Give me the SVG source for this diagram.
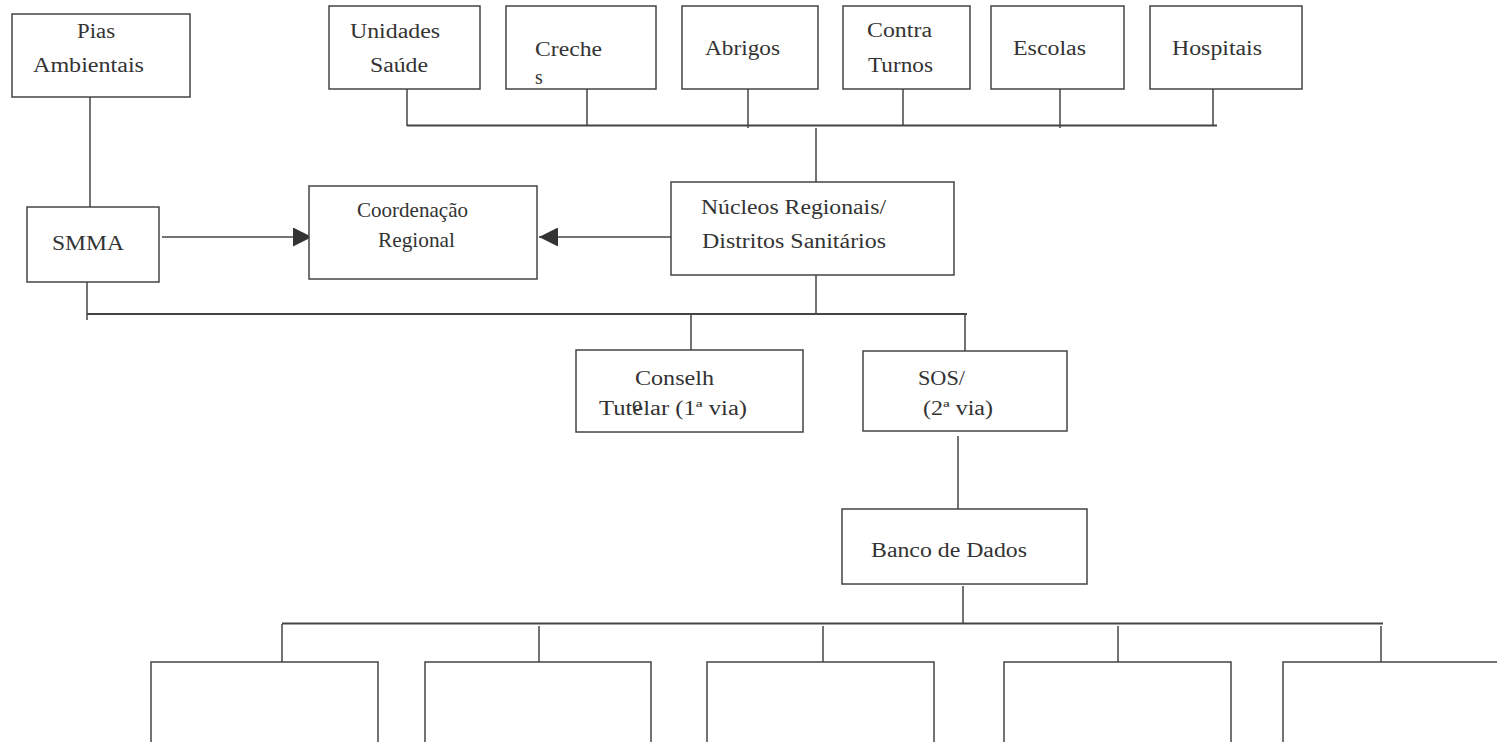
<svg xmlns="http://www.w3.org/2000/svg" width="1497" height="742" viewBox="0 0 1497 742">
<style>
.box{fill:#fff;stroke:#444;stroke-width:1.5}
.ln{fill:none;stroke:#444;stroke-width:1.5}
.bus{fill:none;stroke:#444;stroke-width:2}
.t{font-family:'Liberation Serif','DejaVu Serif','Times New Roman',serif;font-size:20px;fill:#333}
.tc{font-family:'Liberation Serif','DejaVu Serif','Times New Roman',serif;font-size:22px;fill:#333}
</style>
<defs>
<marker id="ah" markerUnits="userSpaceOnUse" markerWidth="19" markerHeight="19" refX="19" refY="9.5" orient="auto">
<path d="M0,0 L19,9.5 L0,19 Z" fill="#333"/>
</marker>
</defs>
<rect width="1497" height="742" fill="#fff"/>
<g id="connectors">
<line class="ln" x1="90" y1="97" x2="90" y2="208"/>
<line class="ln" x1="407" y1="89" x2="407" y2="126"/>
<line class="ln" x1="587" y1="89" x2="587" y2="126"/>
<line class="ln" x1="748" y1="89" x2="748" y2="128"/>
<line class="ln" x1="903" y1="89" x2="903" y2="126"/>
<line class="ln" x1="1060" y1="89" x2="1060" y2="128"/>
<line class="ln" x1="1213" y1="89" x2="1213" y2="126"/>
<line class="bus" x1="407" y1="125.5" x2="1217" y2="125.5"/>
<line class="ln" x1="816" y1="128" x2="816" y2="182"/>
<line class="ln" x1="162" y1="237" x2="312" y2="237" marker-end="url(#ah)"/>
<line class="ln" x1="671" y1="237" x2="539" y2="237" marker-end="url(#ah)"/>
<line class="ln" x1="87" y1="282" x2="87" y2="320"/>
<line class="ln" x1="816" y1="275" x2="816" y2="314"/>
<line class="bus" x1="87" y1="314" x2="967" y2="314"/>
<line class="ln" x1="691" y1="314" x2="691" y2="350"/>
<line class="ln" x1="965" y1="314" x2="965" y2="351"/>
<line class="ln" x1="958" y1="436" x2="958" y2="509"/>
<line class="ln" x1="963" y1="586" x2="963" y2="623"/>
<line class="bus" x1="282" y1="623.5" x2="1383" y2="623.5"/>
<line class="ln" x1="282" y1="624" x2="282" y2="662"/>
<line class="ln" x1="539" y1="626" x2="539" y2="663"/>
<line class="ln" x1="823" y1="626" x2="823" y2="663"/>
<line class="ln" x1="1118" y1="626" x2="1118" y2="663"/>
<line class="ln" x1="1381" y1="626" x2="1381" y2="663"/>
</g>
<g id="pias">
<rect class="box" x="12" y="14" width="178" height="83"/>
<text class="t" x="77" y="38" textLength="38" lengthAdjust="spacingAndGlyphs">Pias</text>
<text class="t" x="33" y="72" textLength="111" lengthAdjust="spacingAndGlyphs">Ambientais</text>
</g>
<g id="unidades">
<rect class="box" x="329" y="6" width="151" height="83"/>
<text class="t" x="350" y="38" textLength="90" lengthAdjust="spacingAndGlyphs">Unidades</text>
<text class="t" x="370" y="72" textLength="58" lengthAdjust="spacingAndGlyphs">Saúde</text>
</g>
<g id="creches">
<rect class="box" x="506" y="6" width="150" height="83"/>
<text class="t" x="535" y="56" textLength="67" lengthAdjust="spacingAndGlyphs">Creche</text>
<text class="t" x="535" y="84">s</text>
</g>
<g id="abrigos">
<rect class="box" x="682" y="6" width="136" height="83"/>
<text class="t" x="705" y="55" textLength="75" lengthAdjust="spacingAndGlyphs">Abrigos</text>
</g>
<g id="contraturnos">
<rect class="box" x="843" y="6" width="127" height="83"/>
<text class="t" x="867" y="37" textLength="65" lengthAdjust="spacingAndGlyphs">Contra</text>
<text class="t" x="868" y="72" textLength="65" lengthAdjust="spacingAndGlyphs">Turnos</text>
</g>
<g id="escolas">
<rect class="box" x="991" y="6" width="133" height="83"/>
<text class="t" x="1013" y="55" textLength="73" lengthAdjust="spacingAndGlyphs">Escolas</text>
</g>
<g id="hospitais">
<rect class="box" x="1150" y="6" width="152" height="83"/>
<text class="t" x="1172" y="55" textLength="90" lengthAdjust="spacingAndGlyphs">Hospitais</text>
</g>
<g id="smma">
<rect class="box" x="27" y="207" width="132" height="75"/>
<text class="t" x="52" y="250" textLength="72" lengthAdjust="spacingAndGlyphs">SMMA</text>
</g>
<g id="coordenacao">
<rect class="box" x="309" y="186" width="228" height="93"/>
<text class="tc" x="357" y="217" textLength="111" lengthAdjust="spacingAndGlyphs">Coordenação</text>
<text class="tc" x="378" y="247" textLength="77" lengthAdjust="spacingAndGlyphs">Regional</text>
</g>
<g id="nucleos">
<rect class="box" x="671" y="182" width="283" height="93"/>
<text class="t" x="701" y="214" textLength="185" lengthAdjust="spacingAndGlyphs">Núcleos Regionais/</text>
<text class="t" x="702" y="248" textLength="184" lengthAdjust="spacingAndGlyphs">Distritos Sanitários</text>
</g>
<g id="conselho">
<rect class="box" x="576" y="350" width="227" height="82"/>
<text class="t" x="635" y="385" textLength="79" lengthAdjust="spacingAndGlyphs">Conselh</text>
<text class="t" x="632" y="411">o</text>
<text class="t" x="599" y="415" textLength="148" lengthAdjust="spacingAndGlyphs">Tutelar (1ª via)</text>
</g>
<g id="sos">
<rect class="box" x="863" y="351" width="204" height="80"/>
<text class="t" x="918" y="385" textLength="47" lengthAdjust="spacingAndGlyphs">SOS/</text>
<text class="t" x="923" y="415" textLength="70" lengthAdjust="spacingAndGlyphs">(2ª via)</text>
</g>
<g id="banco">
<rect class="box" x="842" y="509" width="245" height="75"/>
<text class="t" x="871" y="557" textLength="156" lengthAdjust="spacingAndGlyphs">Banco de Dados</text>
</g>
<g id="b1"><rect class="box" x="151" y="662" width="227" height="100"/></g>
<g id="b2"><rect class="box" x="425" y="662" width="226" height="100"/></g>
<g id="b3"><rect class="box" x="707" y="662" width="227" height="100"/></g>
<g id="b4"><rect class="box" x="1004" y="662" width="227" height="100"/></g>
<g id="b5"><rect class="box" x="1283" y="662" width="250" height="100"/></g>
</svg>
